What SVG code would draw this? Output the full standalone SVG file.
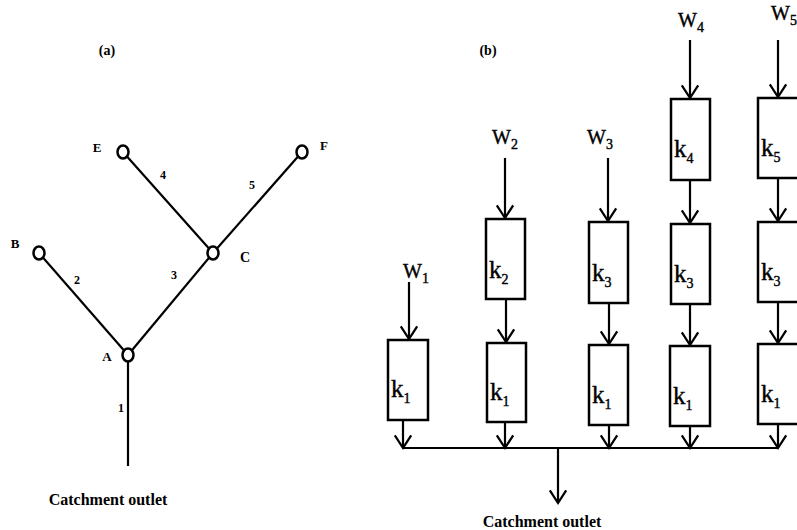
<svg xmlns="http://www.w3.org/2000/svg" width="797" height="530" viewBox="0 0 797 530">
<defs>
<style>
.lbl{font-family:"Liberation Serif","Times New Roman",serif;font-weight:bold;fill:#000}
.k{font-family:"Liberation Serif","Times New Roman",serif;font-size:25px;fill:#000;stroke:#000;stroke-width:0.4}
.w{font-family:"Liberation Serif","Times New Roman",serif;font-size:20px;fill:#000;stroke:#000;stroke-width:0.4}
.sub{font-size:14px}
.edge{stroke:#000;stroke-width:2.2;fill:none}
.node{fill:#fff;stroke:#000;stroke-width:2.5}
.box{fill:#fff;stroke:#000;stroke-width:2.5}
.arr{stroke:#000;stroke-width:2.2;fill:none;marker-end:url(#v)}
</style>
<marker id="v" markerUnits="userSpaceOnUse" markerWidth="20" markerHeight="20" viewBox="-16 -11 18 22" refX="0" refY="0" orient="auto">
<path d="M-14,-9 L0,0 L-14,9" fill="none" stroke="#000" stroke-width="2.5"/>
</marker>
</defs>
<rect width="797" height="530" fill="#fff"/>

<!-- (a) tree -->
<text class="lbl" x="107" y="55" font-size="14" text-anchor="middle">(a)</text>
<g id="connectors-a">
<line class="edge" x1="123" y1="152" x2="213" y2="253"/>
<line class="edge" x1="302" y1="152" x2="213" y2="253"/>
<line class="edge" x1="39" y1="253" x2="128" y2="355"/>
<line class="edge" x1="213" y1="253" x2="128" y2="355"/>
<line class="edge" x1="128" y1="355" x2="128" y2="466"/>
<text class="lbl" x="163" y="179" font-size="12" text-anchor="middle">4</text>
<text class="lbl" x="252" y="189" font-size="12" text-anchor="middle">5</text>
<text class="lbl" x="77" y="284" font-size="12" text-anchor="middle">2</text>
<text class="lbl" x="174" y="279" font-size="12" text-anchor="middle">3</text>
<text class="lbl" x="121" y="412" font-size="12" text-anchor="middle">1</text>
</g>
<g id="node-E"><ellipse class="node" cx="123" cy="152" rx="5.5" ry="6.5"/><text class="lbl" x="97" y="152" font-size="13" text-anchor="middle">E</text></g>
<g id="node-F"><ellipse class="node" cx="302" cy="152" rx="5.5" ry="6.5"/><text class="lbl" x="324" y="150" font-size="13" text-anchor="middle">F</text></g>
<g id="node-B"><ellipse class="node" cx="39" cy="253" rx="5.5" ry="6.5"/><text class="lbl" x="15" y="248" font-size="13" text-anchor="middle">B</text></g>
<g id="node-C"><ellipse class="node" cx="213" cy="253" rx="5.5" ry="6.5"/><text class="lbl" x="245" y="262" font-size="14" text-anchor="middle">C</text></g>
<g id="node-A"><ellipse class="node" cx="128" cy="355" rx="5.5" ry="6.5"/><text class="lbl" x="107" y="361" font-size="13" text-anchor="middle">A</text></g>
<text class="lbl" x="108" y="505" font-size="16" text-anchor="middle">Catchment outlet</text>

<!-- (b) cascade -->
<text class="lbl" x="488" y="55" font-size="14" text-anchor="middle">(b)</text>

<g id="connectors-b">
<line class="arr" x1="409" y1="282" x2="409" y2="339"/>
<line class="arr" x1="505" y1="158" x2="505" y2="218"/>
<line class="arr" x1="506" y1="299" x2="506" y2="342"/>
<line class="arr" x1="608" y1="158" x2="608" y2="221"/>
<line class="arr" x1="609" y1="303" x2="609" y2="344"/>
<line class="arr" x1="690" y1="40" x2="690" y2="98"/>
<line class="arr" x1="690" y1="180" x2="690" y2="223"/>
<line class="arr" x1="690" y1="304" x2="690" y2="345"/>
<line class="arr" x1="778" y1="40" x2="778" y2="97"/>
<line class="arr" x1="778" y1="178" x2="778" y2="221"/>
<line class="arr" x1="778" y1="302" x2="778" y2="343"/>
<line class="arr" x1="403" y1="420" x2="403" y2="448"/>
<line class="arr" x1="505" y1="422" x2="505" y2="448"/>
<line class="arr" x1="609" y1="425" x2="609" y2="448"/>
<line class="arr" x1="690" y1="426" x2="690" y2="448"/>
<line class="arr" x1="778" y1="424" x2="778" y2="448"/>
<line class="edge" x1="403" y1="448" x2="778" y2="448"/>
<line class="arr" x1="558" y1="448" x2="558" y2="503"/>
</g>

<g id="W1"><text class="w" x="403" y="278">W<tspan class="sub" dy="5">1</tspan></text></g>
<g id="W2"><text class="w" x="492" y="144">W<tspan class="sub" dy="5">2</tspan></text></g>
<g id="W3"><text class="w" x="587" y="144">W<tspan class="sub" dy="5">3</tspan></text></g>
<g id="W4"><text class="w" x="678" y="27">W<tspan class="sub" dy="5">4</tspan></text></g>
<g id="W5"><text class="w" x="771" y="20">W<tspan class="sub" dy="5">5</tspan></text></g>

<g id="c1-k1"><rect class="box" x="388" y="340" width="40" height="80"/><text class="k" x="391" y="397">k<tspan class="sub" dy="6">1</tspan></text></g>
<g id="c2-k2"><rect class="box" x="486" y="219" width="39" height="80"/><text class="k" x="489" y="278">k<tspan class="sub" dy="6">2</tspan></text></g>
<g id="c2-k1"><rect class="box" x="487" y="343" width="39" height="79"/><text class="k" x="490" y="400">k<tspan class="sub" dy="6">1</tspan></text></g>
<g id="c3-k3"><rect class="box" x="589" y="222" width="39" height="81"/><text class="k" x="592" y="281">k<tspan class="sub" dy="6">3</tspan></text></g>
<g id="c3-k1"><rect class="box" x="589" y="345" width="39" height="80"/><text class="k" x="592" y="403">k<tspan class="sub" dy="6">1</tspan></text></g>
<g id="c4-k4"><rect class="box" x="671" y="99" width="39" height="81"/><text class="k" x="674" y="157">k<tspan class="sub" dy="6">4</tspan></text></g>
<g id="c4-k3"><rect class="box" x="671" y="224" width="39" height="80"/><text class="k" x="674" y="282">k<tspan class="sub" dy="6">3</tspan></text></g>
<g id="c4-k1"><rect class="box" x="670" y="346" width="40" height="80"/><text class="k" x="673" y="404">k<tspan class="sub" dy="6">1</tspan></text></g>
<g id="c5-k5"><rect class="box" x="758" y="98" width="42" height="80"/><text class="k" x="761" y="156">k<tspan class="sub" dy="6">5</tspan></text></g>
<g id="c5-k3"><rect class="box" x="758" y="222" width="42" height="80"/><text class="k" x="761" y="280">k<tspan class="sub" dy="6">3</tspan></text></g>
<g id="c5-k1"><rect class="box" x="758" y="344" width="42" height="80"/><text class="k" x="761" y="402">k<tspan class="sub" dy="6">1</tspan></text></g>

<text class="lbl" x="542" y="527" font-size="16" text-anchor="middle">Catchment outlet</text>
</svg>
